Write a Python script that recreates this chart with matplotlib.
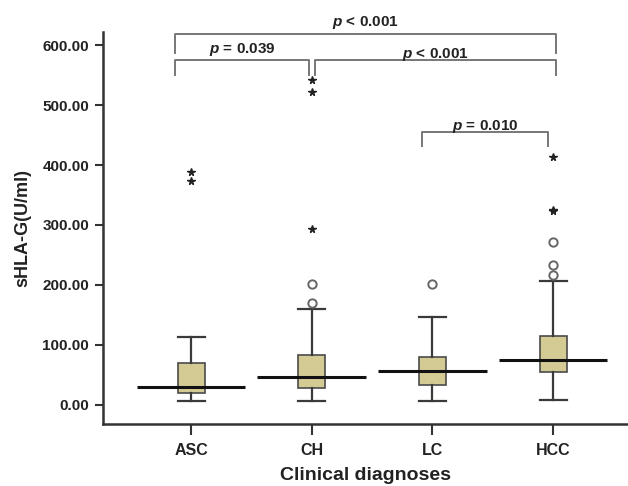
import matplotlib
matplotlib.use('Agg')
import matplotlib.pyplot as plt

plt.rcParams['font.family'] = ['Liberation Sans', 'DejaVu Sans']
plt.rcParams['font.weight'] = 'bold'
plt.rcParams['mathtext.fontset'] = 'custom'
plt.rcParams['mathtext.it'] = 'Liberation Sans:italic:bold'
plt.rcParams['mathtext.bf'] = 'Liberation Sans:bold'

# groups and box summaries (U/ml)
groups = ['ASC', 'CH', 'LC', 'HCC']
whisker_low = [6.7, 6.7, 5.6, 8.4]
q1 = [19.5, 28.4, 33.0, 54.0]
medians = [30.0, 46.2, 56.8, 74.6]
q3 = [69.6, 82.5, 80.0, 115.0]
whisker_high = [113.6, 159.0, 146.5, 207.0]

# outliers: circles = mild, stars = extreme
circle_outliers = [[], [170.5, 201.7], [201.7], [215.6, 233.0, 271.0]]
star_outliers = [[373.0, 388.0], [294.0, 522.0, 542.0], [], [323.0, 325.0, 413.0]]

# significance brackets: (left, right, height, drop, label, text y)
brackets = [
    (0.87, 4.02, 618, 31, '< 0.001', 638),
    (0.87, 1.98, 576, 26, '= 0.039', 593),
    (2.03, 4.02, 576, 26, '< 0.001', 585),
    (2.91, 3.96, 455, 23, '= 0.010', 465),
]

pos = [1, 2, 3, 4]
stats = []
for i, g in enumerate(groups):
    stats.append(dict(label=g, whislo=whisker_low[i], q1=q1[i], med=medians[i],
                      q3=q3[i], whishi=whisker_high[i], fliers=[]))

fig = plt.figure(figsize=(6.28, 4.86), dpi=100)
ax = fig.add_axes([0.164, 0.128, 0.836, 0.806])

line_col = '#3a3a3a'
ax.bxp(stats, positions=pos, widths=0.224, patch_artist=True, showfliers=False,
       boxprops=dict(facecolor='#d4cb94', edgecolor='#4a4a4a', linewidth=1.2),
       whiskerprops=dict(color=line_col, linewidth=1.6),
       capprops=dict(color=line_col, linewidth=1.6),
       capwidths=0.224,
       medianprops=dict(linewidth=0))

# SPSS-style wide median lines
ax.hlines(medians, [p - 0.45 for p in pos], [p + 0.45 for p in pos],
          colors='#111111', linewidth=2.2, zorder=4)

for p, vals in zip(pos, circle_outliers):
    ax.plot([p] * len(vals), vals, linestyle='none', marker='o', markersize=6,
            markerfacecolor='white', markeredgecolor='#666666', markeredgewidth=1.4)
for p, vals in zip(pos, star_outliers):
    ax.plot([p] * len(vals), vals, linestyle='none', marker='*', markersize=5.5,
            color='#222222')

for x0, x1, h, d, txt, ty in brackets:
    ax.plot([x0, x0, x1, x1], [h - d, h, h, h - d], color='#777777', linewidth=1.4,
            clip_on=False)
    ax.text((x0 + x1) / 2, ty, '$\\it{p}$ ' + txt,
            ha='center', va='center', fontsize=11, fontweight='bold', color='#222222')

ax.set_xlim(0.27, 4.62)
ax.set_ylim(-32, 622)
ax.set_yticks([0, 100, 200, 300, 400, 500, 600])
ax.set_yticklabels(['%.2f' % v for v in [0, 100, 200, 300, 400, 500, 600]])
ax.set_xticks(pos)
ax.set_xticklabels(groups)

for s in ['top', 'right']:
    ax.spines[s].set_visible(False)
for s in ['left', 'bottom']:
    ax.spines[s].set_color('#333333')
    ax.spines[s].set_linewidth(1.8)

ax.tick_params(axis='y', length=6, width=1.5, color='#333333', labelsize=11, pad=4)
ax.tick_params(axis='x', length=8, width=1.5, color='#333333', labelsize=11.5, pad=6)
for lab in ax.get_xticklabels() + ax.get_yticklabels():
    lab.set_fontweight('bold')
    lab.set_color('#222222')

ax.set_ylabel('sHLA-G(U/ml)', fontsize=13, fontweight='bold', color='#222222', labelpad=8)
ax.set_xlabel('Clinical diagnoses', fontsize=14, fontweight='bold', color='#222222', labelpad=6)

fig.savefig('out.png', dpi=100)
